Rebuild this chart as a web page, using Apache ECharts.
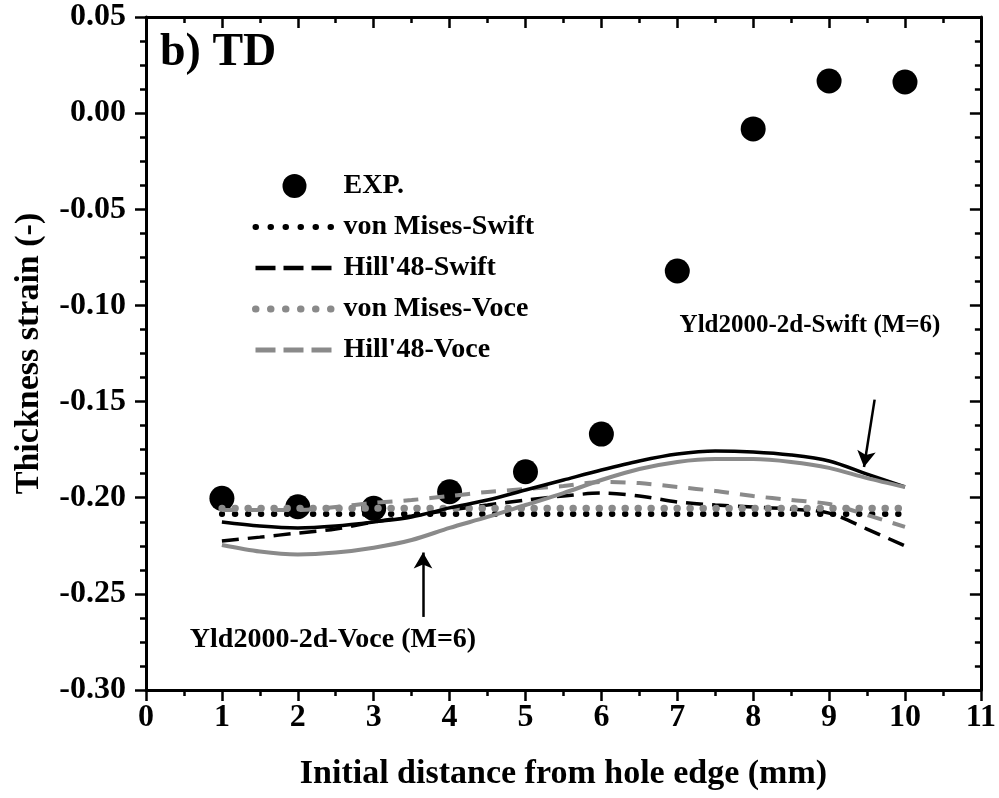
<!DOCTYPE html>
<html>
<head>
<meta charset="utf-8">
<script src="https://cdn.jsdelivr.net/npm/echarts@6/dist/echarts.min.js"></script>
<style>html,body{margin:0;padding:0;background:#fff}#c{width:999px;height:798px}</style>
</head>
<body>
<div id="c"></div>
<script>
// ---- data ----
var expX = [1, 2, 3, 4, 5, 6, 7, 8, 9, 10];
var expY = [-0.2003, -0.2047, -0.2055, -0.1969, -0.1865, -0.1669, -0.0821, -0.0082, 0.0167, 0.0162];

var curveX = [1, 1.5, 2, 2.5, 3, 3.5, 4, 4.5, 5, 5.5, 6, 6.5, 7, 7.5, 8, 8.5, 9, 9.5, 10];
var vonMisesSwift = [-0.2085, -0.2085, -0.2085, -0.2085, -0.2085, -0.2085, -0.2085, -0.2085, -0.2085, -0.2085, -0.2085, -0.2085, -0.2085, -0.2085, -0.2085, -0.2085, -0.2085, -0.2085, -0.2085];
var hill48Swift = [-0.2225, -0.2205, -0.2184, -0.2163, -0.2126, -0.2095, -0.2064, -0.2038, -0.2012, -0.1991, -0.1976, -0.1991, -0.2022, -0.2038, -0.2048, -0.2059, -0.2080, -0.2163, -0.2251];
var vonMisesVoce = [-0.2055, -0.2055, -0.2055, -0.2055, -0.2055, -0.2055, -0.2055, -0.2055, -0.2055, -0.2055, -0.2055, -0.2055, -0.2055, -0.2055, -0.2055, -0.2055, -0.2055, -0.2055, -0.2055];
var hill48Voce = [-0.2064, -0.2064, -0.2064, -0.2048, -0.2027, -0.2012, -0.1991, -0.1970, -0.1955, -0.1939, -0.1918, -0.1924, -0.1944, -0.1965, -0.1991, -0.2012, -0.2033, -0.2090, -0.2152];
var yldSwift = [-0.2126, -0.2147, -0.2157, -0.2147, -0.2126, -0.2100, -0.2053, -0.2012, -0.1960, -0.1908, -0.1856, -0.1809, -0.1773, -0.1757, -0.1762, -0.1778, -0.1809, -0.1877, -0.1944];
var yldVoce = [-0.2246, -0.2280, -0.2295, -0.2285, -0.2260, -0.2220, -0.2157, -0.2100, -0.2038, -0.1976, -0.1908, -0.1851, -0.1814, -0.1799, -0.1799, -0.1814, -0.1845, -0.1898, -0.1944];

var xTicks = {min: 0, max: 11, step: 1};
var yTicks = {min: -0.30, max: 0.05, step: 0.05};

var legendNames = ['EXP.', 'von Mises-Swift', "Hill'48-Swift", 'von Mises-Voce', "Hill'48-Voce"];
var swiftArrow = [[9.6, -0.149], [9.46, -0.184]];
var voceArrow = [[3.65, -0.262], [3.65, -0.2285]];

// ---- chart ----
var FONT = "'Liberation Serif','Times New Roman',serif";
var GREY = '#8a8a8a';
function pairs(xs, ys) { return xs.map(function (x, i) { return [x, ys[i]]; }); }

var styles = {
  'von Mises-Swift': {color: '#000', width: 6, type: [0.5, 12.5], cap: 'round'},
  "Hill'48-Swift": {color: '#000', width: 3.5, type: [17, 9], cap: 'butt'},
  'von Mises-Voce': {color: GREY, width: 7, type: [0.5, 12.5], cap: 'round'},
  "Hill'48-Voce": {color: GREY, width: 4, type: [15, 11], cap: 'butt'}
};
var legendStyles = {
  'von Mises-Swift': {color: '#000', width: 6, type: [0.5, 14.5], cap: 'round'},
  "Hill'48-Swift": {color: '#000', width: 4.5, type: [20, 8], cap: 'butt'},
  'von Mises-Voce': {color: GREY, width: 7, type: [0.5, 14.5], cap: 'round'},
  "Hill'48-Voce": {color: GREY, width: 5, type: [20, 8], cap: 'butt'}
};

var chart = echarts.init(document.getElementById('c'), null, {renderer: 'canvas'});

var axisLine = {show: true, onZero: false, lineStyle: {color: '#000', width: 3}};
var tickStyle = {color: '#000', width: 2.5};

var legendData = legendNames.map(function (n) {
  if (n === 'EXP.') return {name: n, icon: 'circle', itemStyle: {color: '#000', opacity: 1}};
  return {name: n, itemStyle: {color: 'rgba(0,0,0,0)', opacity: 0, borderWidth: 0}, lineStyle: legendStyles[n]};
});

var option = {
  animation: false,
  backgroundColor: '#fff',
  grid: {left: 146, right: 14, top: 17, bottom: 108, containLabel: false},
  legend: {
    orient: 'vertical', left: 247, top: 167,
    itemWidth: 78, itemHeight: 24, itemGap: 13,
    data: legendData,
    textStyle: {fontFamily: FONT, fontWeight: 'bold', fontSize: 28, color: '#000', padding: [0, 0, 0, 5]},
    selectedMode: false
  },
  xAxis: [{
    type: 'value', position: 'bottom', min: xTicks.min, max: xTicks.max, interval: xTicks.step,
    axisLine: axisLine,
    axisTick: {show: true, inside: false, length: 11, lineStyle: tickStyle},
    minorTick: {show: true, splitNumber: 2, length: 6, lineStyle: tickStyle},
    splitLine: {show: false},
    axisLabel: {fontFamily: FONT, fontWeight: 'bold', fontSize: 32, color: '#000', margin: 12},
    name: 'Initial distance from hole edge (mm)', nameLocation: 'middle', nameGap: 67,
    nameTextStyle: {fontFamily: FONT, fontWeight: 'bold', fontSize: 34, color: '#000'}
  }, {
    type: 'value', position: 'top', min: xTicks.min, max: xTicks.max, interval: xTicks.step,
    axisLine: axisLine,
    axisTick: {show: true, inside: true, length: 11, lineStyle: tickStyle},
    minorTick: {show: true, splitNumber: 2, length: 6, lineStyle: tickStyle},
    splitLine: {show: false}, axisLabel: {show: false}
  }],
  yAxis: [{
    type: 'value', position: 'left', min: yTicks.min, max: yTicks.max, interval: yTicks.step,
    axisLine: axisLine,
    axisTick: {show: true, inside: false, length: 11, lineStyle: tickStyle},
    minorTick: {show: true, splitNumber: 4, length: 6, lineStyle: tickStyle},
    splitLine: {show: false},
    axisLabel: {fontFamily: FONT, fontWeight: 'bold', fontSize: 32, color: '#000', margin: 20,
      formatter: function (v) { return v.toFixed(2); }},
    name: 'Thickness strain (-)', nameLocation: 'middle', nameGap: 100, nameRotate: 90,
    nameTextStyle: {fontFamily: FONT, fontWeight: 'bold', fontSize: 34, color: '#000'}
  }, {
    type: 'value', position: 'right', min: yTicks.min, max: yTicks.max, interval: yTicks.step,
    axisLine: axisLine,
    axisTick: {show: true, inside: true, length: 11, lineStyle: tickStyle},
    minorTick: {show: true, splitNumber: 4, length: 6, lineStyle: tickStyle},
    splitLine: {show: false}, axisLabel: {show: false}
  }],
  series: [
    {
      name: 'EXP.', type: 'scatter', data: pairs(expX, expY), symbol: 'circle', symbolSize: 25,
      itemStyle: {color: '#000', opacity: 1}, z: 3,
      markLine: {
        silent: true, symbol: ['none', 'arrow'], symbolSize: [14, 16],
        lineStyle: {color: '#000', width: 2.5, type: 'solid'}, label: {show: false},
        data: [
          [{coord: swiftArrow[0]}, {coord: swiftArrow[1]}],
          [{coord: voceArrow[0]}, {coord: voceArrow[1]}]
        ]
      }
    },
    {
      name: 'von Mises-Swift', type: 'line', data: pairs(curveX, vonMisesSwift), symbol: 'none', smooth: 0.3,
      lineStyle: styles['von Mises-Swift'], itemStyle: {color: '#000'}, z: 4
    },
    {
      name: "Hill'48-Swift", type: 'line', data: pairs(curveX, hill48Swift), symbol: 'none', smooth: 0.3,
      lineStyle: styles["Hill'48-Swift"], itemStyle: {color: '#000'}, z: 4
    },
    {
      name: 'von Mises-Voce', type: 'line', data: pairs(curveX, vonMisesVoce), symbol: 'none', smooth: 0.3,
      lineStyle: styles['von Mises-Voce'], itemStyle: {color: GREY}, z: 4
    },
    {
      name: "Hill'48-Voce", type: 'line', data: pairs(curveX, hill48Voce), symbol: 'none', smooth: 0.3,
      lineStyle: styles["Hill'48-Voce"], itemStyle: {color: GREY}, z: 4
    },
    {
      name: 'Yld2000-2d-Swift (M=6)', type: 'line', data: pairs(curveX, yldSwift), symbol: 'none', smooth: 0.3,
      lineStyle: {color: '#000', width: 3.5, type: 'solid'}, itemStyle: {color: '#000'}, z: 5
    },
    {
      name: 'Yld2000-2d-Voce (M=6)', type: 'line', data: pairs(curveX, yldVoce), symbol: 'none', smooth: 0.3,
      lineStyle: {color: GREY, width: 4, type: 'solid'}, itemStyle: {color: GREY}, z: 5
    }
  ],
  graphic: [
    {type: 'text', left: 160, top: 30, style: {text: 'b) TD', font: 'bold 46px ' + FONT, fill: '#000'}},
    {type: 'text', x: 810, y: 326, style: {text: 'Yld2000-2d-Swift (M=6)', font: 'bold 25px ' + FONT, fill: '#000', align: 'center', verticalAlign: 'middle'}},
    {type: 'text', x: 333, y: 640, style: {text: 'Yld2000-2d-Voce (M=6)', font: 'bold 28px ' + FONT, fill: '#000', align: 'center', verticalAlign: 'middle'}}
  ]
};
chart.setOption(option);
</script>
</body>
</html>
